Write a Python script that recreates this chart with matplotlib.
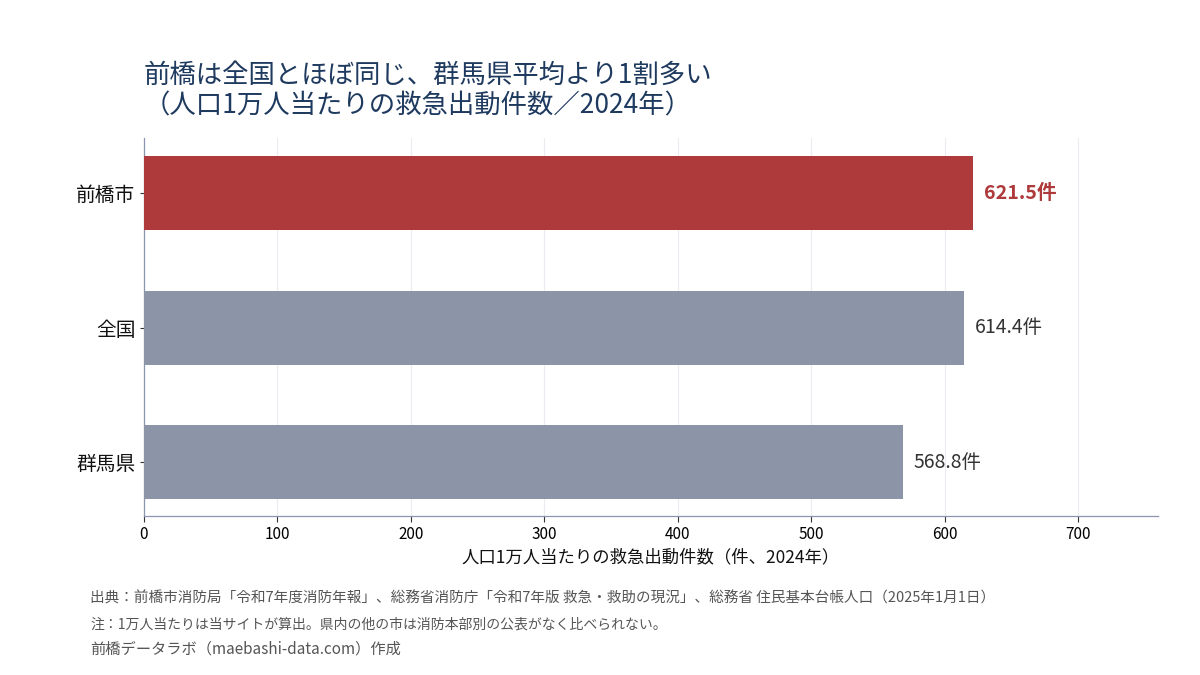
import matplotlib
matplotlib.use("Agg")
import matplotlib.pyplot as plt

plt.rcParams['font.family'] = ['Noto Sans CJK JP', 'DejaVu Sans']

categories = ["前橋市", "全国", "群馬県"]
values = [621.5, 614.4, 568.8]
colors = ["#ae3a3c", "#8c95a8"]
xticks = [0, 100, 200, 300, 400, 500, 600, 700]

title = "前橋は全国とほぼ同じ、群馬県平均より1割多い\n（人口1万人当たりの救急出動件数／2024年）"
xlabel = "人口1万人当たりの救急出動件数（件、2024年）"
notes = [
    "出典：前橋市消防局「令和7年度消防年報」、総務省消防庁「令和7年版 救急・救助の現況」、総務省 住民基本台帳人口（2025年1月1日）",
    "注：1万人当たりは当サイトが算出。県内の他の市は消防本部別の公表がなく比べられない。",
    "前橋データラボ（maebashi-data.com）作成",
]

fig = plt.figure(figsize=(12, 6.75), dpi=100)
ax = fig.add_axes([0.12, 0.2356, 0.845, 0.56])

ypos = list(range(len(categories)))
bar_colors = [colors[0]] + [colors[1]] * (len(categories) - 1)
ax.barh(ypos, values, height=0.55, color=bar_colors, zorder=3)

for i, v in enumerate(values):
    if i == 0:
        ax.text(v + 8, i, f"{v:.1f}件", va="center", ha="left", fontsize=14.2,
                color=colors[0], fontweight="bold")
    else:
        ax.text(v + 8, i, f"{v:.1f}件", va="center", ha="left", fontsize=14,
                color="#333333")

ax.set_yticks(ypos)
ax.set_yticklabels(categories, fontsize=14.2, color="#111111")
ax.set_ylim(2.4, -0.41)
ax.set_xlim(0, 760)
ax.set_xticks(xticks)
ax.set_xticklabels([str(t) for t in xticks], fontsize=11)
ax.set_xlabel(xlabel, fontsize=12.5, color="#111111", labelpad=4)

ax.grid(axis="x", color="#e9ecf1", linewidth=0.8, zorder=0)
for s in ["top", "right"]:
    ax.spines[s].set_visible(False)
for s in ["left", "bottom"]:
    ax.spines[s].set_color("#8a96b0")
    ax.spines[s].set_linewidth(0.9)
ax.tick_params(axis="x", length=4, color="#333333", pad=3)
ax.tick_params(axis="y", length=3, color="#333333", pad=3)

fig.text(0.12, 0.908, title, fontsize=19, color="#1f3a5f", ha="left", va="top",
         linespacing=1.15)

ys = [0.114, 0.074, 0.0385]
sizes = [10.5, 10.0, 11]
for y, n, fs in zip(ys, notes, sizes):
    fig.text(0.075, y, n, fontsize=fs, color="#555555", ha="left", va="center")

fig.savefig("out.png", dpi=100)
